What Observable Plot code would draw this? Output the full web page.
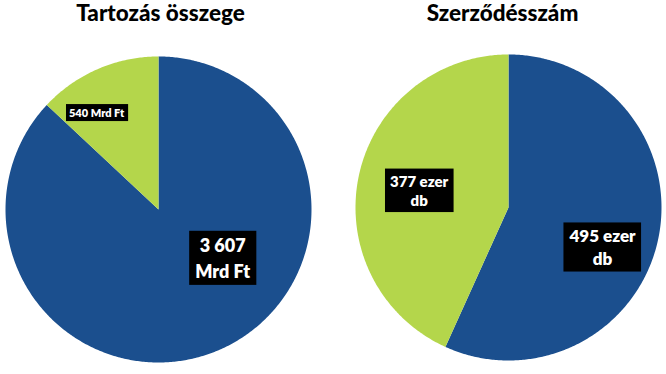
<!DOCTYPE html>
<html>
<head>
<meta charset="utf-8">
<script src="https://cdn.jsdelivr.net/npm/d3@7"></script>
<script src="https://cdn.jsdelivr.net/npm/@observablehq/plot@0.6"></script>
<style>
  html, body { margin: 0; padding: 0; background: #fff; }
  #wrap { position: relative; width: 666px; height: 374px; overflow: hidden; font-family: Lato, "Open Sans", sans-serif; }
  .title { position: absolute; top: 1px; width: 333px; text-align: center; font-weight: 900; font-size: 22.5px; line-height: 24px; color: #000; }
  .chart { position: absolute; top: 40px; }
</style>
</head>
<body>
<div id="wrap"></div>
<script>
// ---- data ----
const titles = ["Tartozás összege", "Szerződésszám"];
const categories = ["Kategória A", "Kategória B"];
const debtValues = [3607, 540];              // Mrd Ft
const debtLabels = ["3 607\nMrd Ft", "540 Mrd Ft"];
const contractValues = [495, 377];           // ezer db
const contractLabels = ["495 ezer\ndb", "377 ezer\ndb"];

const colors = ["#1b4f8e", "#b4d64b"];

// ---- drawing ----
const wrap = document.getElementById("wrap");

function pieRows(values) {
  const pie = d3.pie().sort(null).value(d => d)(values);
  const rows = [];
  pie.forEach((s, i) => {
    const n = Math.max(2, Math.ceil((s.endAngle - s.startAngle) / 0.01));
    rows.push({cat: categories[i], x: 0, y: 0});
    for (let k = 0; k <= n; k++) {
      const t = s.startAngle + (s.endAngle - s.startAngle) * k / n;
      rows.push({cat: categories[i], x: Math.sin(t), y: Math.cos(t)});
    }
    rows.push({cat: categories[i], x: 0, y: 0});
  });
  return {pie, rows};
}

function drawPie(idx, values, labels, layout, labelStyle) {
  const {pie, rows} = pieRows(values);
  const labelData = pie.map((s, i) => {
    const st = labelStyle[i];
    const a = (s.startAngle + s.endAngle) / 2 + st.da;
    return {text: labels[i], x: Math.sin(a) * st.r, y: Math.cos(a) * st.r};
  });
  const marks = [
    Plot.line(rows, {x: "x", y: "y", z: "cat", fill: "cat", stroke: "none", curve: "linear"})
  ];
  labelData.forEach((d, i) => {
    marks.push(Plot.text([d], {
      x: "x", y: "y", text: "text", fill: "white",
      fontSize: labelStyle[i].fs, fontWeight: 800, lineHeight: labelStyle[i].lh,
      fontFamily: "Lato, sans-serif", className: "lbl lbl" + i
    }));
  });
  const chart = Plot.plot({
    width: 333, height: 334,
    marginLeft: layout.ml, marginRight: layout.mr, marginTop: layout.mt, marginBottom: layout.mb,
    x: {domain: [-1, 1], axis: null},
    y: {domain: [-1, 1], axis: null},
    color: {domain: categories, range: colors},
    style: {background: "transparent", overflow: "visible"},
    marks
  });
  const t = document.createElement("div");
  t.className = "title";
  t.style.left = (idx * 333 + layout.tdx) + "px";
  t.textContent = titles[idx];
  wrap.appendChild(t);
  chart.classList.add("chart");
  chart.style.left = (idx * 333) + "px";
  wrap.appendChild(chart);
  // black label boxes
  labelData.forEach((d, i) => {
    const g = chart.querySelector("g.lbl" + i);
    if (!g) return;
    const bb = g.getBBox();
    const p = labelStyle[i].pad;
    const r = document.createElementNS("http://www.w3.org/2000/svg", "rect");
    r.setAttribute("x", bb.x - p[0]);
    r.setAttribute("y", bb.y - p[1]);
    r.setAttribute("width", bb.width + 2 * p[0]);
    r.setAttribute("height", bb.height + 2 * p[1]);
    r.setAttribute("fill", "black");
    g.insertBefore(r, g.firstChild);
  });
}

drawPie(0, debtValues, debtLabels,
  {ml: 5, mr: 22, mt: 16, mb: 12, tdx: -6},
  [{r: 0.52, da: -0.53, fs: 18, lh: 1.45, pad: [6, 3]},
   {r: 0.75, da: -0.16, fs: 11, lh: 1.2, pad: [3, 2]}]);

drawPie(1, contractValues, contractLabels,
  {ml: 22, mr: 5, mt: 14, mb: 14, tdx: 3},
  [{r: 0.665, da: 0.18, fs: 17, lh: 1.3, pad: [5, 3]},
   {r: 0.595, da: -0.02, fs: 15, lh: 1.3, pad: [5, 3]}]);
</script>
</body>
</html>
